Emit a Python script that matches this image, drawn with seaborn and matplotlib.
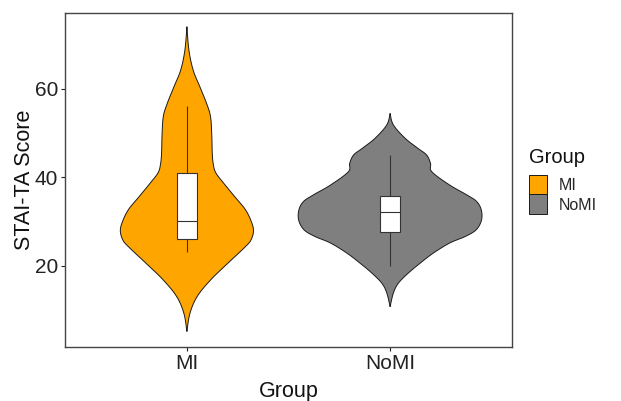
import numpy as np
import pandas as pd
import matplotlib
matplotlib.use("Agg")
import matplotlib.pyplot as plt
from matplotlib.patches import Patch
import seaborn as sns

# Groups and their fill colours
groups = ["MI", "NoMI"]
group_colors = ["#FFA500", "#7F7F7F"]

# Violin profiles: score levels (top to bottom) and relative density
# (1.0 = widest point among both groups)
mi_levels = [74.0, 68.7, 64.2, 60.45, 56.7, 53.7, 49.5, 45.5, 43.0, 41.0, 38.7,
             35.6, 32.6, 29.8, 27.8, 25.8, 24.3, 20.5, 16.8, 13.0, 9.2, 5.1]
mi_density = [0.0, 0.022, 0.068, 0.141, 0.214, 0.258, 0.272, 0.277, 0.288, 0.315, 0.399,
              0.522, 0.641, 0.707, 0.728, 0.701, 0.641, 0.446, 0.261, 0.112, 0.033, 0.0]

nomi_levels = [54.4, 51.8, 48.8, 46.5, 45.0, 43.1, 41.2, 38.2, 36.0, 34.5, 32.6,
               30.3, 28.1, 26.6, 25.1, 22.8, 20.5, 18.3, 16.0, 13.8, 10.7]
nomi_density = [0.0, 0.036, 0.163, 0.304, 0.399, 0.442, 0.457, 0.652, 0.837, 0.946, 0.997,
                1.0, 0.942, 0.824, 0.652, 0.471, 0.326, 0.199, 0.090, 0.036, 0.0]

# Box summaries: lower whisker, Q1, median, Q3, upper whisker
mi_box = [23.0, 26.0, 30.0, 41.0, 56.0]
nomi_box = [20.0, 27.7, 32.0, 35.8, 45.0]

yticks = [20, 40, 60]


def smooth_profile(levels, dens, n=24):
    """Catmull-Rom curve through the profile points for a smooth outline."""
    P = np.column_stack([levels, dens]).astype(float)
    P = np.vstack([P[0], P, P[-1]])
    t = np.linspace(0, 1, n, endpoint=False)[:, None]
    parts = []
    for i in range(1, len(P) - 2):
        p0, p1, p2, p3 = P[i - 1], P[i], P[i + 1], P[i + 2]
        seg = 0.5 * ((2 * p1) + (-p0 + p2) * t
                     + (2 * p0 - 5 * p1 + 4 * p2 - p3) * t ** 2
                     + (-p0 + 3 * p1 - 3 * p2 + p3) * t ** 3)
        parts.append(seg)
    parts.append(P[-2][None])
    out = np.vstack(parts)
    out[:, 1] = np.clip(out[:, 1], 0, None)
    return out[:, 0], out[:, 1]


sns.set_theme(style="white")
plt.rcParams["font.family"] = ["Liberation Sans", "DejaVu Sans"]

fig = plt.figure(figsize=(6.21, 4.01), dpi=100)
ax = fig.add_axes([65 / 621, 1 - 347 / 401, (512 - 65) / 621, (347 - 12.5) / 401])

max_half = 0.45
profiles = [(mi_levels, mi_density), (nomi_levels, nomi_density)]
for pos, ((lv, dn), col) in enumerate(zip(profiles, group_colors)):
    y, w = smooth_profile(lv, dn)
    half = w * max_half
    xs = np.concatenate([pos + half, (pos - half)[::-1]])
    ys = np.concatenate([y, y[::-1]])
    ax.fill(xs, ys, facecolor=col, edgecolor="#1a1a1a", linewidth=0.7, zorder=1)

# Boxplots from the five-number summaries
box_df = pd.DataFrame({
    "Group": np.repeat(groups, 5),
    "Score": mi_box + nomi_box,
})
sns.boxplot(data=box_df, x="Group", y="Score", order=groups, width=0.1,
            color="white", linecolor="#333333", linewidth=0.8,
            showfliers=False, showcaps=False, saturation=1, ax=ax,
            boxprops={"zorder": 3}, whiskerprops={"zorder": 2.5},
            medianprops={"zorder": 4}, zorder=3)

ax.set_xlim(-0.6, 1.6)
ax.set_ylim(1.6, 77.2)
ax.set_yticks(yticks)
ax.set_yticklabels([str(v) for v in yticks])
ax.set_xticks([0, 1])
ax.set_xticklabels(groups)

ax.set_xlabel("Group", fontsize=15.5, color="#111111", labelpad=6)
ax.set_ylabel("STAI-TA Score", fontsize=15.5, color="#111111", labelpad=0)
ax.tick_params(axis="both", which="major", labelsize=15, colors="#222222",
               length=3, width=0.8, direction="out", pad=2,
               bottom=True, left=True)
for side in ["left", "right", "top", "bottom"]:
    ax.spines[side].set_visible(True)
    ax.spines[side].set_color("#444444")
    ax.spines[side].set_linewidth(1.0)
ax.grid(False)

# Legend: title plus stacked colour keys
fig.text(529 / 621, 1 - 148 / 401, "Group", fontsize=14.5, color="#111111",
         ha="left", va="top")
handles = [Patch(facecolor=c, edgecolor="#1a1a1a", linewidth=0.7) for c in group_colors]
leg = fig.legend(handles, groups, loc="upper left",
                 bbox_to_anchor=(529 / 621, 1 - 175 / 401), frameon=False,
                 fontsize=11.5, handlelength=1.15,
                 handleheight=1.5, labelspacing=0.0, handletextpad=0.7,
                 borderpad=0, borderaxespad=0)

fig.savefig("out.png", dpi=100)
